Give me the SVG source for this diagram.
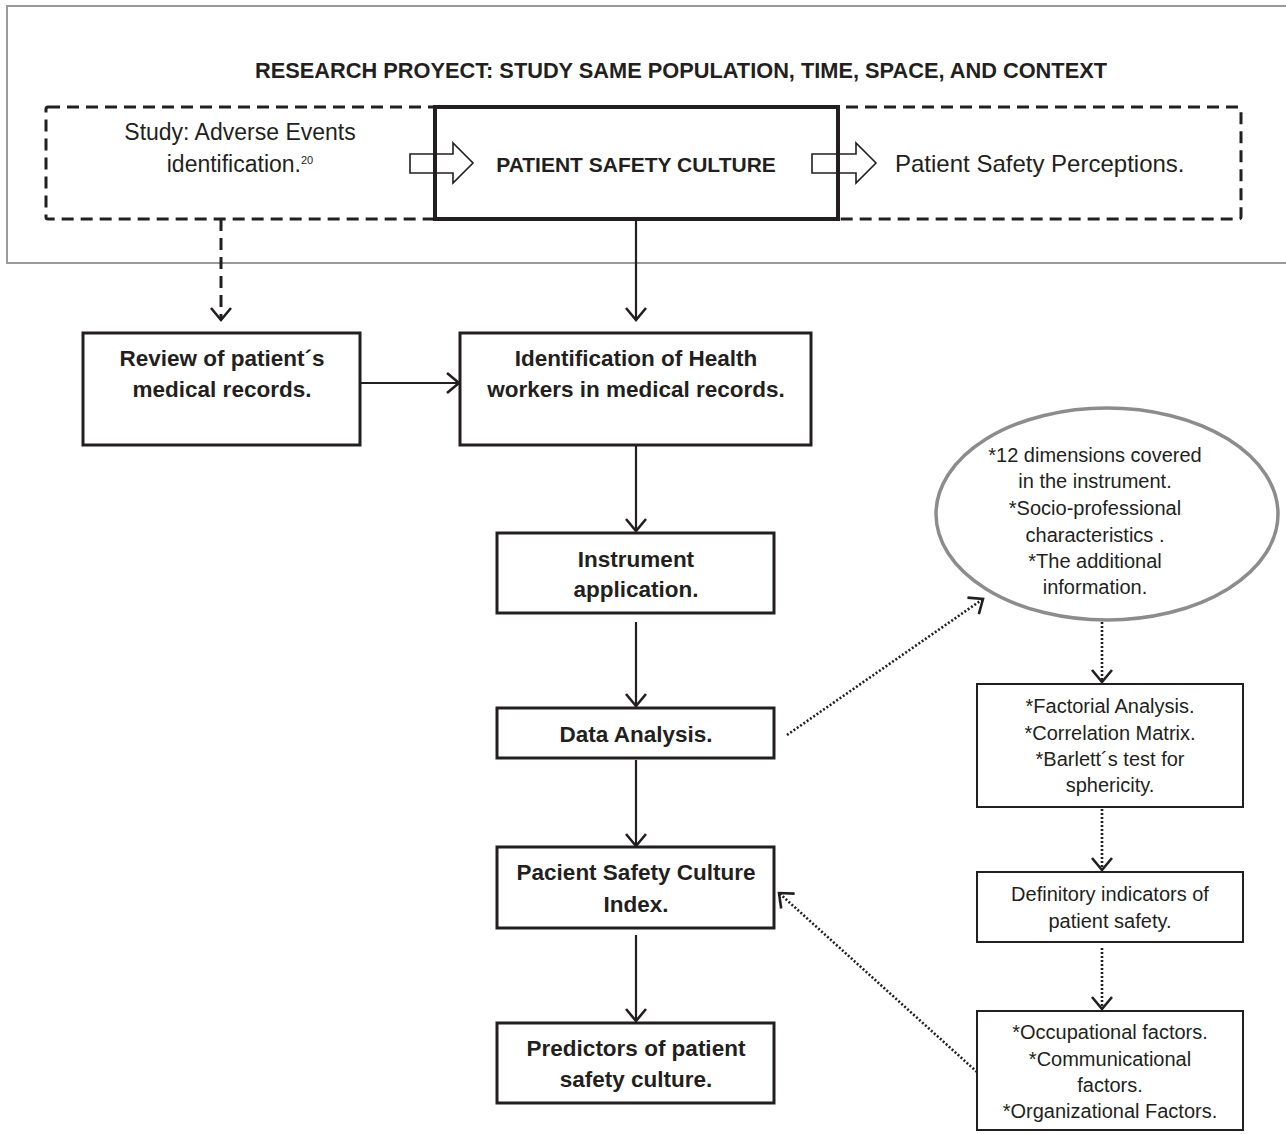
<svg xmlns="http://www.w3.org/2000/svg" width="1286" height="1134" viewBox="0 0 1286 1134">
<defs>
<style>
text{font-family:"Liberation Sans",Arial,sans-serif;fill:#231f20}
.b{font-weight:bold;font-size:22.5px;text-anchor:middle}
.s{font-size:20px;text-anchor:middle}
.box{fill:#fff;stroke:#231f20;stroke-width:3}
.sbox{fill:#fff;stroke:#231f20;stroke-width:2}
.ln{fill:none;stroke:#231f20;stroke-width:2.2}
.dash{fill:none;stroke:#231f20;stroke-width:3;stroke-dasharray:12 7}
.dot{fill:none;stroke:#231f20;stroke-width:2.6;stroke-dasharray:2 2}
</style>
<marker id="ah" markerUnits="userSpaceOnUse" markerWidth="20" markerHeight="26" refX="14" refY="11" orient="auto" overflow="visible">
<path d="M2,1 L14,11 L2,21" fill="none" stroke="#231f20" stroke-width="2.6"/>
</marker>
</defs>
<rect width="1286" height="1134" fill="#fff"/>
<g id="frame">
<rect x="7" y="6" width="1300" height="257" fill="none" stroke="#9a9a9a" stroke-width="2"/>
<text x="681" y="78" font-weight="bold" font-size="22.5" text-anchor="middle" textLength="852" lengthAdjust="spacingAndGlyphs">RESEARCH PROYECT: STUDY SAME POPULATION, TIME, SPACE, AND CONTEXT</text>
</g>
<g id="context-box">
<rect x="46" y="107" width="1195" height="112" rx="2" class="dash"/>
</g>
<g id="adverse-events">
<text x="240" y="140" font-size="23" text-anchor="middle">Study: Adverse Events</text>
<text x="240" y="172" font-size="23" text-anchor="middle">identification.<tspan font-size="11" dy="-8">20</tspan></text>
</g>
<g id="perceptions">
<text x="895" y="172" font-size="24">Patient Safety Perceptions.</text>
</g>
<g id="connectors">
<polygon points="410,154 453,154 453,143 473,163 453,183 453,173 410,173" fill="#fff" stroke="#231f20" stroke-width="1.6"/>
<polygon points="812,154 856,154 856,143 876,163 856,183 856,173 812,173" fill="#fff" stroke="#231f20" stroke-width="1.6"/>
<path d="M221,219 V320" class="dash" marker-end="url(#ah)"/>
<path d="M636,219 V320" class="ln" marker-end="url(#ah)"/>
<path d="M361,383 H459" class="ln" marker-end="url(#ah)"/>
<path d="M636,445 V531" class="ln" marker-end="url(#ah)"/>
<path d="M636,622 V706" class="ln" marker-end="url(#ah)"/>
<path d="M636,760 V846" class="ln" marker-end="url(#ah)"/>
<path d="M636,935 V1021" class="ln" marker-end="url(#ah)"/>
<path d="M787,735 L983,599" class="dot" marker-end="url(#ah)"/>
<path d="M1102,622 V682" class="dot" marker-end="url(#ah)"/>
<path d="M1102,809 V870" class="dot" marker-end="url(#ah)"/>
<path d="M1102,948 V1009" class="dot" marker-end="url(#ah)"/>
<path d="M977,1072 L779,893" class="dot" marker-end="url(#ah)"/>
</g>
<g id="patient-safety-culture">
<rect x="435" y="107" width="403" height="112" fill="none" stroke="#231f20" stroke-width="4"/>
<text x="636" y="172" font-weight="bold" font-size="21" text-anchor="middle">PATIENT SAFETY CULTURE</text>
</g>
<g id="review-records">
<rect x="83" y="333" width="277" height="112" class="box"/>
<text x="222" y="366" class="b">Review of patient´s</text>
<text x="222" y="397" class="b">medical records.</text>
</g>
<g id="identification-workers">
<rect x="460" y="333" width="351" height="112" class="box"/>
<text x="636" y="366" class="b">Identification of Health</text>
<text x="636" y="397" class="b">workers in medical records.</text>
</g>
<g id="instrument-application">
<rect x="497" y="533" width="277" height="80" class="box"/>
<text x="636" y="567" class="b">Instrument</text>
<text x="636" y="597" class="b">application.</text>
</g>
<g id="data-analysis">
<rect x="497" y="708" width="277" height="50" class="box"/>
<text x="636" y="742" class="b">Data Analysis.</text>
</g>
<g id="culture-index">
<rect x="497" y="847" width="277" height="81" class="box"/>
<text x="636" y="880" class="b">Pacient Safety Culture</text>
<text x="636" y="912" class="b">Index.</text>
</g>
<g id="predictors">
<rect x="497" y="1023" width="277" height="80" class="box"/>
<text x="636" y="1056" class="b">Predictors of patient</text>
<text x="636" y="1087" class="b">safety culture.</text>
</g>
<g id="dimensions">
<ellipse cx="1107" cy="514" rx="171" ry="106" fill="#fff" stroke="#8c8c8c" stroke-width="3.5"/>
<text x="1095" y="462" class="s">*12 dimensions covered</text>
<text x="1095" y="488" class="s">in the instrument.</text>
<text x="1095" y="515" class="s">*Socio-professional</text>
<text x="1095" y="542" class="s">characteristics .</text>
<text x="1095" y="568" class="s">*The additional</text>
<text x="1095" y="594" class="s">information.</text>
</g>
<g id="factorial">
<rect x="977" y="684" width="266" height="123" class="sbox"/>
<text x="1110" y="713" class="s">*Factorial Analysis.</text>
<text x="1110" y="740" class="s">*Correlation Matrix.</text>
<text x="1110" y="766" class="s">*Barlett´s test for</text>
<text x="1110" y="792" class="s">sphericity.</text>
</g>
<g id="definitory">
<rect x="977" y="872" width="266" height="70" class="sbox"/>
<text x="1110" y="901" class="s">Definitory indicators of</text>
<text x="1110" y="928" class="s">patient safety.</text>
</g>
<g id="factors">
<rect x="977" y="1011" width="266" height="119" class="sbox"/>
<text x="1110" y="1039" class="s">*Occupational factors.</text>
<text x="1110" y="1066" class="s">*Communicational</text>
<text x="1110" y="1092" class="s">factors.</text>
<text x="1110" y="1118" class="s">*Organizational Factors.</text>
</g>
</svg>
